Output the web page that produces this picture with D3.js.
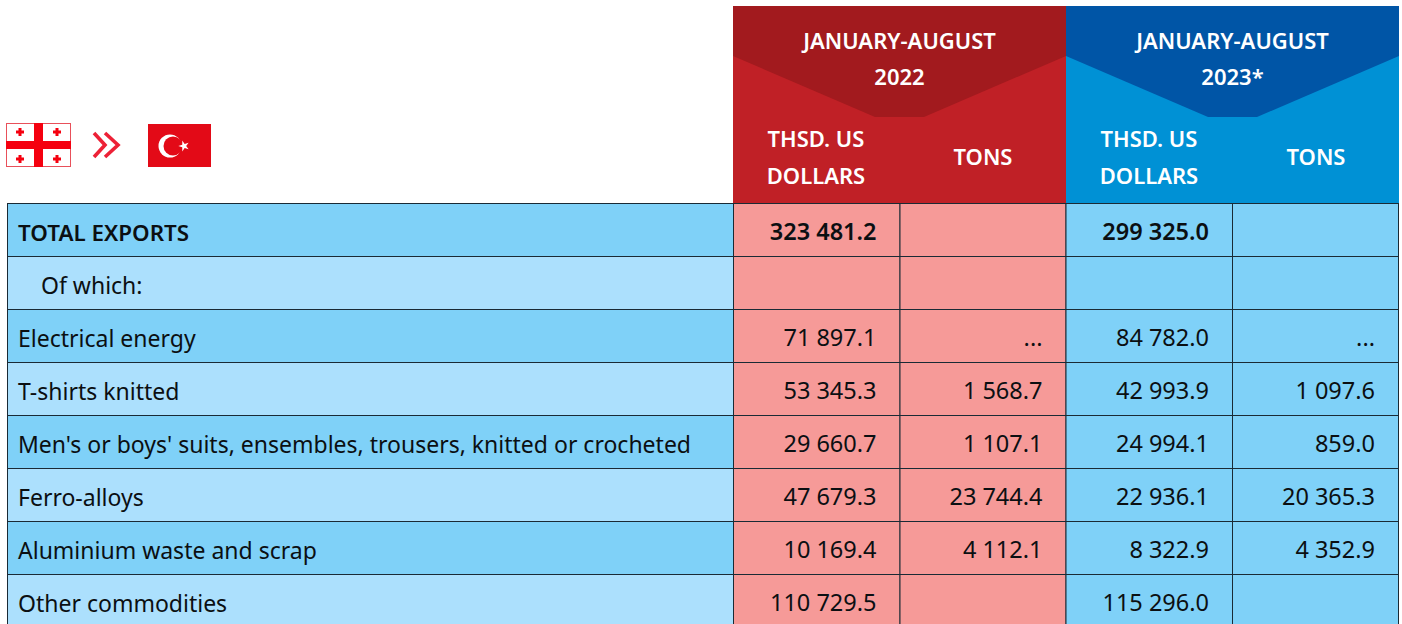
<!DOCTYPE html>
<html>
<head>
<meta charset="utf-8">
<title>Georgia exports to Turkey</title>
<style>
html,body{margin:0;padding:0;background:#fff;overflow:hidden;}
svg{display:block;}
text{font-family:"Noto Sans",sans-serif;}
.hd{fill:#fff;font-size:22px;font-weight:600;text-anchor:middle;}
.cell{fill:#0b0f12;font-size:23px;}
.num{font-size:23.5px;}
</style>
</head>
<body>
<div id="chart"></div>
<script src="https://d3js.org/d3.v7.min.js"></script>
<script>
var categories = ["TOTAL EXPORTS","Of which:","Electrical energy","T-shirts knitted","Men's or boys' suits, ensembles, trousers, knitted or crocheted","Ferro-alloys","Aluminium waste and scrap","Other commodities"];
var usd2022 = [323481.2,null,71897.1,53345.3,29660.7,47679.3,10169.4,110729.5];
var tons2022 = [null,null,"...",1568.7,1107.1,23744.4,4112.1,null];
var usd2023 = [299325.0,null,84782.0,42993.9,24994.1,22936.1,8322.9,115296.0];
var tons2023 = [null,null,"...",1097.6,859.0,20365.3,4352.9,null];
var columnNames = ["label","usd2022","tons2022","usd2023","tons2023"];
var periods = [["JANUARY-AUGUST","2022"],["JANUARY-AUGUST","2023*"]];

var W = 1402, H = 624;
var svg = d3.select("#chart").append("svg").attr("width",W).attr("height",H);

var y = d3.scaleBand().domain(categories).range([203.5,627.5]);
var colX = {label:[7.5,733.5],usd2022:[733.5,900],tons2022:[900,1066],usd2023:[1066,1232.5],tons2023:[1232.5,1398.5]};
var cols = [usd2022,tons2022,usd2023,tons2023];
var fmt = d3.formatLocale({decimal:".",thousands:" ",grouping:[3],currency:["",""]}).format(",.1f");

// header blocks
var hdr = [{x:733,w:333,dark:"#a21a1e",light:"#c02026",p:periods[0]},{x:1066,w:333,dark:"#0055a6",light:"#0091d5",p:periods[1]}];
hdr.forEach(function(h){
	var g = svg.append("g").attr("transform","translate("+h.x+",0)");
	g.append("rect").attr("y",6).attr("width",h.w).attr("height",198).attr("fill",h.light);
	g.append("path").attr("d","M0 6H"+h.w+"V56L"+(h.w-142)+" 117H142L0 56Z").attr("fill",h.dark);
	g.append("text").attr("class","hd").attr("x",h.w/2).attr("y",49).text(h.p[0]);
	g.append("text").attr("class","hd").attr("x",h.w/2).attr("y",85).text(h.p[1]);
	g.append("text").attr("class","hd").attr("x",83).attr("y",147).text("THSD. US");
	g.append("text").attr("class","hd").attr("x",83).attr("y",184).text("DOLLARS");
	g.append("text").attr("class","hd").attr("x",250).attr("y",165).text("TONS");
});

// rows
var rows = svg.selectAll("g.row").data(categories).enter().append("g").attr("class","row")
	.attr("transform",function(d){return "translate(0,"+y(d)+")";});
rows.each(function(d,i){
	var r = d3.select(this), h = y.bandwidth();
	var rowFill = i%2==0 ? "#7fd1f8" : "#ace0fd";
	columnNames.forEach(function(c,j){
		var fill = j==0 ? rowFill : (j<3 ? "#f69a98" : "#7fd1f8");
		r.append("rect").attr("x",colX[c][0]).attr("width",colX[c][1]-colX[c][0]).attr("height",h)
			.attr("fill",fill).attr("stroke","#1a2a35").attr("stroke-width",1);
	});
	r.append("text").attr("class","cell").attr("x",i==1?41:18).attr("y",37)
		.style("font-weight",i==0?"600":"400").style("font-size",i==0?"22.4px":null).text(d);
	cols.forEach(function(vals,j){
		var v = vals[i];
		if(v===null) return;
		r.append("text").attr("class","cell num").attr("text-anchor","end")
			.attr("x",colX[columnNames[j+1]][1]-23.5).attr("y",36)
			.style("font-weight",i==0?"600":"400")
			.text(typeof v=="string"?v:fmt(v));
	});
});

// flags
var geo = svg.append("g").attr("transform","translate(6,123)");
geo.append("rect").attr("x",.5).attr("y",.5).attr("width",64).attr("height",43).attr("fill","#fff").attr("stroke","#e8505a");
geo.append("rect").attr("x",28).attr("y",0).attr("width",9).attr("height",44).attr("fill","#f5000f");
geo.append("rect").attr("x",0).attr("y",18).attr("width",65).attr("height",8).attr("fill","#f5000f");
[[14,9],[51,9],[14,36],[51,36]].forEach(function(p){
	geo.append("path").attr("d","M"+(p[0]-4)+" "+p[1]+"h8M"+p[0]+" "+(p[1]-4)+"v8").attr("stroke","#f5000f").attr("stroke-width",3).attr("fill","none");
});
svg.append("path").attr("d","M94 133L105 145L94 157M105 133L118 145L105 157").attr("fill","none").attr("stroke","#ed2136").attr("stroke-width",3.6);
var tur = svg.append("g").attr("transform","translate(148,124)");
tur.append("rect").attr("width",63).attr("height",43).attr("fill","#e30a17");
tur.append("circle").attr("cx",22).attr("cy",22).attr("r",11.5).attr("fill","#fff");
tur.append("circle").attr("cx",25).attr("cy",22).attr("r",9.5).attr("fill","#e30a17");
var star = d3.symbol().type(d3.symbolStar).size(36);
tur.append("path").attr("d",star()).attr("transform","translate(36,22) rotate(-90)").attr("fill","#fff");
</script>
</body>
</html>
